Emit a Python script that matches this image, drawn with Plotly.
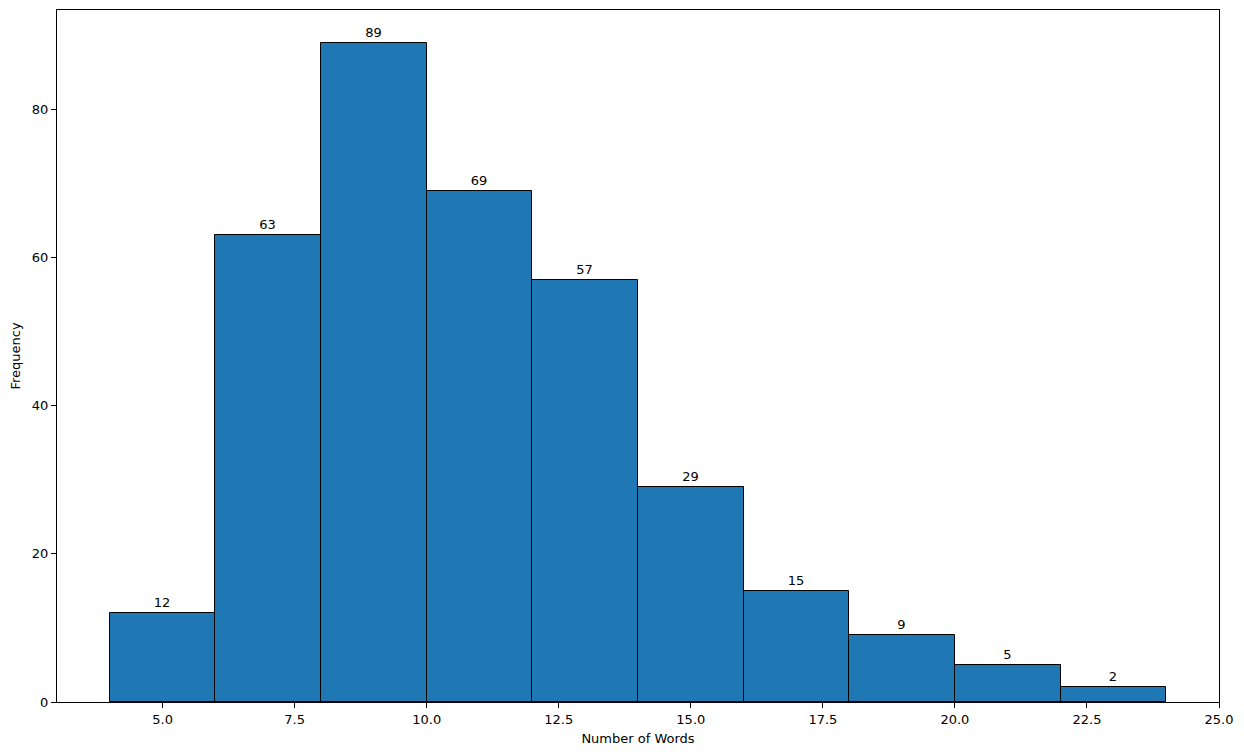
import plotly.graph_objects as go

bin_edges = [4, 6, 8, 10, 12, 14, 16, 18, 20, 22, 24]
counts = [12, 63, 89, 69, 57, 29, 15, 9, 5, 2]
x_ticks = [5.0, 7.5, 10.0, 12.5, 15.0, 17.5, 20.0, 22.5, 25.0]
y_ticks = [0, 20, 40, 60, 80]

centers = [(bin_edges[i] + bin_edges[i + 1]) / 2 for i in range(len(counts))]
widths = [bin_edges[i + 1] - bin_edges[i] for i in range(len(counts))]

fig = go.Figure()
fig.add_trace(go.Bar(
    x=centers, y=counts, width=widths,
    marker=dict(color="#1f77b4", line=dict(color="black", width=1)),
    text=[str(c) for c in counts], textposition="outside",
    textfont=dict(size=13, color="black", family="DejaVu Sans"),
    cliponaxis=False,
))

font = dict(family="DejaVu Sans", size=13, color="black")
fig.update_layout(
    width=1228, height=740,
    margin=dict(l=49, r=17, t=2, b=46),
    plot_bgcolor="white", paper_bgcolor="white",
    font=font, showlegend=False, bargap=0,
    xaxis=dict(
        range=[3, 25], tickvals=x_ticks, ticktext=[f"{v:.1f}" for v in x_ticks],
        showline=True, linecolor="black", linewidth=1, mirror=True,
        ticks="outside", ticklen=5, tickcolor="black", showgrid=False, zeroline=False,
        title=dict(text="Number of Words", font=font, standoff=8),
    ),
    yaxis=dict(
        range=[0, 93.45], tickvals=y_ticks,
        showline=True, linecolor="black", linewidth=1, mirror=True,
        ticks="outside", ticklen=5, tickcolor="black", showgrid=False, zeroline=False,
        title=dict(text="Frequency", font=font, standoff=8),
    ),
)

fig.write_html("out.html")
